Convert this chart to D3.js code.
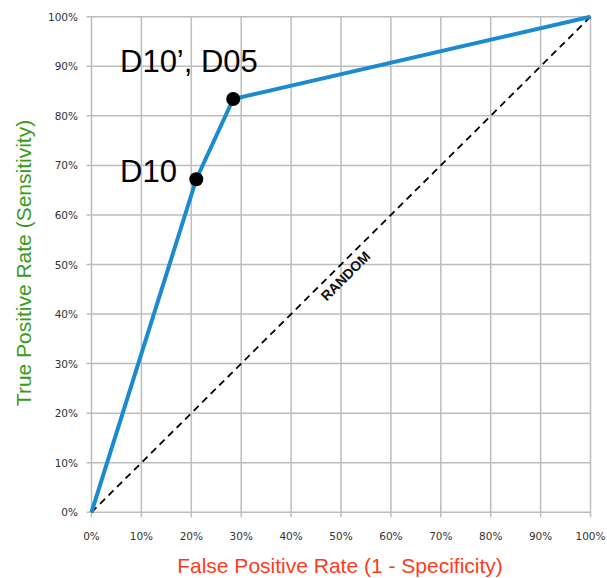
<!DOCTYPE html>
<html><head><meta charset="utf-8">
<script src="https://cdn.jsdelivr.net/npm/d3@7"></script>
<style>body{margin:0;background:#fff}svg{display:block}</style>
</head><body>
<svg id="c" width="607" height="578"></svg>
<script>
const ticks = [0,0.1,0.2,0.3,0.4,0.5,0.6,0.7,0.8,0.9,1.0];
const rocFPR = [0, 0.21, 0.284, 1.0];
const rocTPR = [0, 0.672, 0.834, 1.0];
const pointFPR = [0.21, 0.284];
const pointTPR = [0.672, 0.834];
const pointLabels = ["D10", "D10\u2019, D05"];
const randomLine = [[0,0],[1,1]];

const svg = d3.select("#c");
const x = d3.scaleLinear().domain([0,1]).range([91.5,590.5]);
const y = d3.scaleLinear().domain([0,1]).range([512.3,16.7]);
const fmt = d => Math.round(d*100) + "%";
const tickFont = "DejaVu Sans, Verdana, sans-serif";
const font = "Liberation Sans, Arial, sans-serif";

// gridlines
const g = svg.append("g");
g.selectAll("line.v").data(ticks).enter().append("line")
  .attr("x1", d=>x(d)).attr("x2", d=>x(d)).attr("y1", y(1)).attr("y2", y(0)+5)
  .attr("stroke", "#bdbdbd").attr("stroke-width", 1.5);
g.selectAll("line.h").data(ticks).enter().append("line")
  .attr("y1", d=>y(d)).attr("y2", d=>y(d)).attr("x1", x(0)-5).attr("x2", x(1))
  .attr("stroke", "#bdbdbd").attr("stroke-width", 1.5);

// tick labels
g.selectAll("text.xl").data(ticks).enter().append("text")
  .attr("x", d=>x(d)).attr("y", 540).attr("text-anchor","middle")
  .attr("font-family",tickFont).attr("font-size", 10.5)
  .attr("fill","#333").text(fmt);
g.selectAll("text.yl").data(ticks).enter().append("text")
  .attr("x", 78).attr("y", d=>y(d)+4).attr("text-anchor","end")
  .attr("font-family",tickFont).attr("font-size", 10.5)
  .attr("fill","#333").text(fmt);

// random line
svg.append("path").datum(randomLine)
  .attr("d", d3.line().x(d=>x(d[0])).y(d=>y(d[1])))
  .attr("stroke","#000").attr("stroke-width",1.8).attr("stroke-dasharray","7,5").attr("fill","none");
svg.append("text")
  .attr("transform", `translate(${x(0.52)-2},${y(0.52)+25}) rotate(-45)`)
  .attr("text-anchor","middle").attr("font-family",font)
  .attr("font-size",14).attr("font-weight","bold").attr("fill","#111").text("RANDOM");

// ROC curve
const roc = rocFPR.map((v,i)=>[v, rocTPR[i]]);
svg.append("path").datum(roc)
  .attr("d", d3.line().x(d=>x(d[0])).y(d=>y(d[1])))
  .attr("stroke","#1b8ad0").attr("stroke-width",4).attr("fill","none").attr("stroke-linejoin","round");

// points
svg.selectAll("circle.p").data(pointFPR).enter().append("circle")
  .attr("cx", d=>x(d)).attr("cy", (d,i)=>y(pointTPR[i])).attr("r", 7).attr("fill","#000");

// point labels
svg.append("text").attr("x", 120).attr("y", 182)
  .attr("font-family",font).attr("font-size",31).attr("fill","#000")
  .text(pointLabels[0]);
svg.append("text").attr("x", 120).attr("y", 72)
  .attr("font-family",font).attr("font-size",31).attr("fill","#000")
  .text(pointLabels[1]);

// axis titles
svg.append("text").attr("x", 340).attr("y", 573).attr("text-anchor","middle")
  .attr("font-family",font).attr("font-size",21).attr("fill","#ff3b1d")
  .text("False Positive Rate (1 - Specificity)");
svg.append("text").attr("transform","translate(31,263) rotate(-90)").attr("text-anchor","middle")
  .attr("font-family",font).attr("font-size",21).attr("fill","#3a9a1a")
  .text("True Positive Rate (Sensitivity)");
</script>
</body></html>
